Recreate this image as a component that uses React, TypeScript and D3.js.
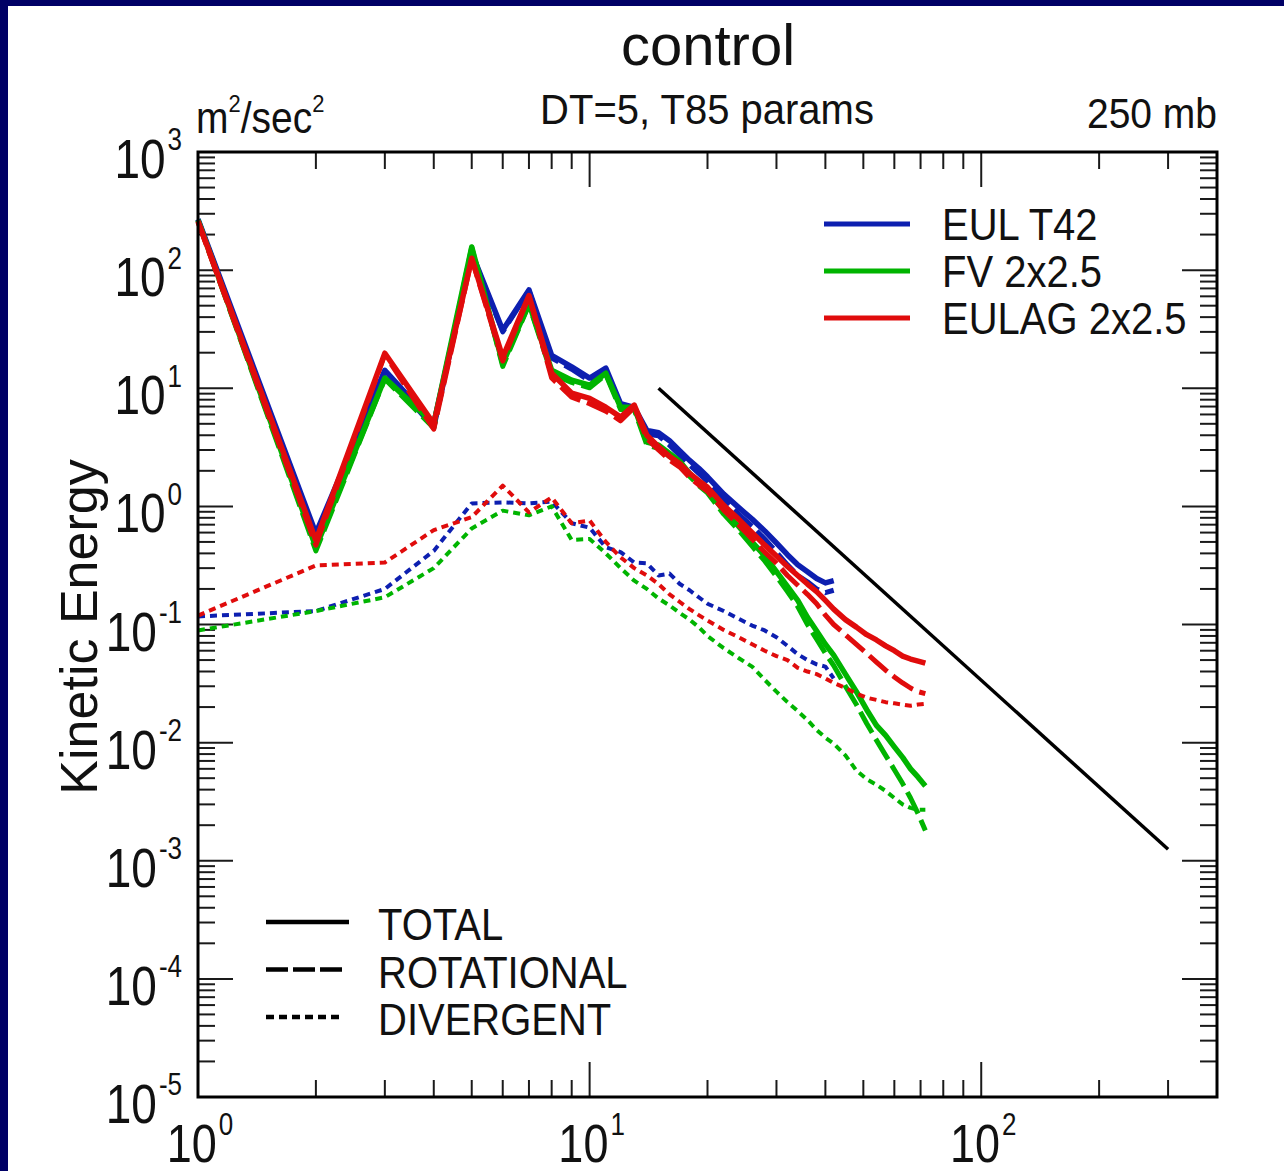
import React, { useRef, useEffect } from 'react';
import * as d3 from 'd3';

// wavenumbers for the T42 run (truncates at 42) and the 2x2.5 runs (to 72)
const eulK = [1, 2, 3, 4, 5, 6, 7, 8, 9, 10, 11, 12, 13, 14, 15, 16, 17, 18, 19, 20, 22, 24, 26, 28, 30, 32, 34, 36, 38, 40, 42];
const gridK = [1, 2, 3, 4, 5, 6, 7, 8, 9, 10, 11, 12, 13, 14, 15, 16, 17, 18, 19, 20, 22, 24, 26, 28, 30, 32, 34, 36, 38, 40, 42, 45, 48, 51, 54, 57, 60, 63, 66, 69, 72];

// EUL T42
const eulTotal = [270, 0.59, 14.2, 5.0, 140, 31, 68, 19, 15.2, 12.2, 14.8, 7.4, 6.9, 4.4, 4.2, 3.6, 2.95, 2.45, 2.1, 1.78, 1.27, 0.98, 0.78, 0.62, 0.49, 0.39, 0.32, 0.28, 0.245, 0.225, 0.235];
const eulRot = [268, 0.55, 14.0, 4.6, 139, 30, 67, 18, 14.5, 11.5, 14.3, 7.0, 6.6, 4.1, 3.95, 3.3, 2.7, 2.25, 1.9, 1.63, 1.14, 0.86, 0.68, 0.53, 0.41, 0.32, 0.26, 0.23, 0.2, 0.186, 0.195];
const eulDiv = [0.117, 0.13, 0.2, 0.42, 1.06, 1.08, 1.06, 1.1, 0.72, 0.66, 0.45, 0.41, 0.335, 0.33, 0.26, 0.27, 0.22, 0.195, 0.17, 0.15, 0.13, 0.112, 0.098, 0.089, 0.078, 0.066, 0.056, 0.05, 0.046, 0.044, 0.035];

// FV 2x2.5
const fvTotal = [265, 0.45, 12.2, 5.0, 157, 16.2, 52, 14.2, 11.7, 10.6, 13.4, 6.9, 6.9, 3.5, 3.3, 2.8, 2.4, 1.9, 1.6, 1.38, 0.92, 0.68, 0.5, 0.38, 0.28, 0.21, 0.16, 0.115, 0.088, 0.068, 0.055, 0.038, 0.027, 0.019, 0.014, 0.0115, 0.0092, 0.0075, 0.006, 0.0051, 0.0043];
const fvRot = [262, 0.42, 12.0, 4.6, 156, 15.3, 51, 13.2, 11.2, 10.1, 13.0, 6.6, 6.6, 3.3, 3.1, 2.65, 2.27, 1.8, 1.5, 1.3, 0.86, 0.63, 0.46, 0.345, 0.255, 0.19, 0.142, 0.1, 0.075, 0.057, 0.045, 0.03, 0.021, 0.0145, 0.0105, 0.0078, 0.0059, 0.0045, 0.0034, 0.0025, 0.0018];
const fvDiv = [0.089, 0.13, 0.17, 0.3, 0.65, 0.92, 0.84, 1.0, 0.52, 0.53, 0.4, 0.3, 0.235, 0.2, 0.166, 0.145, 0.125, 0.11, 0.095, 0.08, 0.063, 0.052, 0.044, 0.034, 0.027, 0.022, 0.0185, 0.0155, 0.0128, 0.011, 0.0098, 0.0078, 0.0058, 0.0049, 0.0044, 0.0039, 0.0034, 0.003, 0.0028, 0.0027, 0.0027];

// EULAG 2x2.5
const eulagTotal = [260, 0.515, 19.8, 5.0, 126, 18.3, 61, 13.4, 9.1, 8.2, 6.9, 5.7, 7.2, 4.0, 3.2, 2.65, 2.3, 1.9, 1.65, 1.45, 1.02, 0.78, 0.6, 0.47, 0.38, 0.31, 0.26, 0.22, 0.19, 0.16, 0.135, 0.11, 0.095, 0.082, 0.074, 0.066, 0.06, 0.054, 0.051, 0.049, 0.047];
const eulagRot = [255, 0.47, 19.3, 4.5, 125, 17, 60, 12.2, 8.4, 7.4, 6.4, 5.3, 6.9, 3.75, 3.0, 2.47, 2.15, 1.76, 1.52, 1.34, 0.93, 0.7, 0.53, 0.41, 0.33, 0.26, 0.215, 0.18, 0.15, 0.12, 0.1, 0.082, 0.068, 0.057, 0.048, 0.041, 0.036, 0.032, 0.029, 0.027, 0.026];
const eulagDiv = [0.119, 0.316, 0.335, 0.63, 0.81, 1.5, 0.89, 1.19, 0.72, 0.76, 0.5, 0.37, 0.3, 0.26, 0.22, 0.18, 0.155, 0.135, 0.12, 0.108, 0.09, 0.078, 0.068, 0.06, 0.054, 0.05, 0.043, 0.04, 0.038, 0.035, 0.032, 0.029, 0.026, 0.024, 0.023, 0.022, 0.0215, 0.021, 0.0205, 0.021, 0.0213];

// k^-3 reference line
const refK = [15, 300];
const refE = [10, 0.00125];

const modelNames = ['EUL T42', 'FV 2x2.5', 'EULAG 2x2.5'];
const modelColors = ['#0d1fb0', '#00b400', '#e00c0c'];
const componentNames = ['TOTAL', 'ROTATIONAL', 'DIVERGENT'];

const xDomain = [1, 400];
const yDomain = [1e-5, 1e3];

const W = 1284;
const H = 1171;

const App = () => {
    const svgRef = useRef(null);

    useEffect(() => {
        const svg = d3.select(svgRef.current);
        svg.selectAll('*').remove();

        const font = 'Liberation Sans, Arial, Helvetica, sans-serif';
        const left = 198, right = 1217, top = 152, bottom = 1097;

        // background + navy slide border
        svg.append('rect').attr('width', W).attr('height', H).attr('fill', '#fff');
        svg.append('rect').attr('width', 8).attr('height', H).attr('fill', '#000066');
        svg.append('rect').attr('width', W).attr('height', 6).attr('fill', '#000066');

        const x = d3.scaleLog().domain(xDomain).range([left, right]);
        const y = d3.scaleLog().domain(yDomain).range([bottom, top]);

        const isMajor = (v) => Math.abs(Math.log10(v) - Math.round(Math.log10(v))) < 1e-6;

        // ticks on all four sides
        const ticks = svg.append('g').attr('stroke', '#1a1a1a').attr('stroke-width', 2);
        x.ticks().forEach(t => {
            const len = isMajor(t) ? 35 : 17;
            ticks.append('line').attr('x1', x(t)).attr('x2', x(t)).attr('y1', bottom).attr('y2', bottom - len);
            ticks.append('line').attr('x1', x(t)).attr('x2', x(t)).attr('y1', top).attr('y2', top + len);
        });
        y.ticks().forEach(t => {
            const len = isMajor(t) ? 35 : 17;
            ticks.append('line').attr('y1', y(t)).attr('y2', y(t)).attr('x1', left).attr('x2', left + len);
            ticks.append('line').attr('y1', y(t)).attr('y2', y(t)).attr('x1', right).attr('x2', right - len);
        });

        // tick labels (10^n), slightly tall glyphs like the original
        const labels = svg.append('g').attr('font-family', font).attr('fill', '#111');
        y.ticks().filter(isMajor).forEach(t => {
            const e = Math.round(Math.log10(t));
            const txt = labels.append('text')
                .attr('text-anchor', 'end')
                .attr('transform', `translate(182,${y(t) + 26}) scale(1,1.2)`);
            txt.append('tspan').attr('font-size', 46).text('10');
            txt.append('tspan').attr('font-size', 26).attr('dx', 2).attr('dy', -23).text(e);
        });
        x.ticks().filter(isMajor).forEach(t => {
            const e = Math.round(Math.log10(t));
            const txt = labels.append('text')
                .attr('text-anchor', 'middle')
                .attr('transform', `translate(${x(t) + 2},1162) scale(1,1.18)`);
            txt.append('tspan').attr('font-size', 45).text('10');
            txt.append('tspan').attr('font-size', 26).attr('dx', 2).attr('dy', -23).text(e);
        });

        // series
        const line = d3.line().x(d => x(d[0])).y(d => y(d[1]));
        const dashes = [null, '24,7', '7,5'];
        const widths = [5.5, 5, 4];
        const models = [
            [eulK, eulTotal, eulRot, eulDiv],
            [gridK, fvTotal, fvRot, fvDiv],
            [gridK, eulagTotal, eulagRot, eulagDiv],
        ];
        const plot = svg.append('g').attr('fill', 'none');
        models.forEach((m, i) => {
            [3, 2, 1].forEach(c => {
                const pts = m[0].map((k, j) => [k, m[c][j]]);
                plot.append('path')
                    .attr('d', line(pts))
                    .attr('stroke', modelColors[i])
                    .attr('stroke-width', widths[c - 1])
                    .attr('stroke-dasharray', dashes[c - 1])
                    .attr('stroke-linejoin', 'round');
            });
        });

        // k^-3 reference
        plot.append('path')
            .attr('d', line(refK.map((k, j) => [k, refE[j]])))
            .attr('stroke', '#000')
            .attr('stroke-width', 3.5);

        // frame
        svg.append('rect')
            .attr('x', left).attr('y', top)
            .attr('width', right - left).attr('height', bottom - top)
            .attr('fill', 'none').attr('stroke', '#000').attr('stroke-width', 3);

        // model legend (top right)
        const leg = svg.append('g').attr('font-family', font).attr('fill', '#111');
        modelNames.forEach((name, i) => {
            const ly = 224 + i * 47;
            leg.append('line').attr('x1', 824).attr('x2', 910).attr('y1', ly).attr('y2', ly)
                .attr('stroke', modelColors[i]).attr('stroke-width', 5);
            leg.append('text').attr('transform', `translate(942,${ly + 16}) scale(1,1.12)`)
                .attr('font-size', 40).text(name);
        });

        // component legend (bottom left)
        componentNames.forEach((name, i) => {
            const ly = 922 + i * 47.5;
            leg.append('line').attr('x1', 266).attr('x2', i === 0 ? 349 : 342).attr('y1', ly).attr('y2', ly)
                .attr('stroke', '#000').attr('stroke-width', 4.5)
                .attr('stroke-dasharray', i === 0 ? null : (i === 1 ? '22,5' : '8,5'));
            leg.append('text').attr('transform', `translate(378,${ly + 18}) scale(1,1.12)`)
                .attr('font-size', 40).text(name);
        });

        // titles
        const ttl = svg.append('g').attr('font-family', font).attr('fill', '#111');
        ttl.append('text').attr('x', 708).attr('y', 65).attr('text-anchor', 'middle')
            .attr('font-size', 58).text('control');
        ttl.append('text').attr('text-anchor', 'middle')
            .attr('transform', 'translate(707,124) scale(1,1.08)')
            .attr('font-size', 40).text('DT=5, T85 params');
        ttl.append('text').attr('text-anchor', 'end')
            .attr('transform', 'translate(1217,128) scale(1,1.08)')
            .attr('font-size', 39).text('250 mb');
        const units = ttl.append('text').attr('transform', 'translate(196,133) scale(1,1.12)');
        units.append('tspan').attr('font-size', 39).text('m');
        units.append('tspan').attr('font-size', 22).attr('dy', -19).text('2');
        units.append('tspan').attr('font-size', 39).attr('dy', 19).text('/sec');
        units.append('tspan').attr('font-size', 22).attr('dy', -19).text('2');

        ttl.append('text').attr('text-anchor', 'middle')
            .attr('transform', 'translate(97,627) rotate(-90)')
            .attr('font-size', 52).text('Kinetic Energy');
    }, []);

    return (
        <svg ref={svgRef} width={W} height={H} style={{ position: 'absolute', left: 0, top: 0 }}></svg>
    );
};

export default App;
